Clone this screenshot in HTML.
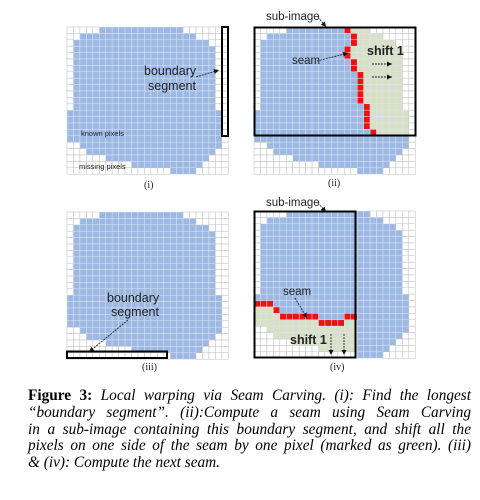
<!DOCTYPE html>
<html><head><meta charset="utf-8"><style>
body{margin:0;background:#fff;width:480px;height:500px;overflow:hidden;position:relative}
svg{position:absolute;left:0;top:0}
.cap{position:absolute;left:28px;top:388px;width:443px;font-family:"Liberation Serif",serif;font-size:15.3px;line-height:16.8px;font-style:italic;color:#000}
.cap div{text-align:justify;text-align-last:justify;white-space:nowrap;height:16.8px}
.cap div.last{text-align-last:left}
.cap b{font-style:normal}
</style></head><body>
<svg id="fig" width="480" height="500"></svg>
<div class="cap">
<div><b>Figure 3:</b> Local warping via Seam Carving. (i): Find the longest</div>
<div>“boundary segment”. (ii):Compute a seam using Seam Carving</div>
<div>in a sub-image containing this boundary segment, and shift all the</div>
<div>pixels on one side of the seam by one pixel (marked as green). (iii)</div>
<div class="last">&amp; (iv): Compute the next seam.</div>
</div>
<script>
const rowStart=[5,2,1,1,1,1,1,1,1,1,1,1,1,0,0,0,0,0,2,3,6,10,16];
const rowEnd=[17,19,21,22,22,22,22,22,22,22,22,22,22,23,23,23,23,23,23,22,21,20,19];
const seamII=[14,15,15,14,14,15,15,16,16,16,16,16,17,17,17,17,18];
const seamIVcols=[0,1,2,3,4,5,6,7,8,9,10,11,12,13,14];
const seamIVrows=[14,14,14,15,16,16,16,16,16,16,17,17,17,17,16];
const NC=25,NR=23,CW=6.45,CH=6.4;
const panels=[{x:67,y:27,id:'i'},{x:254,y:27,id:'ii'},{x:67,y:212,id:'iii'},{x:254,y:211,id:'iv'}];
const S='http://www.w3.org/2000/svg';
const svg=document.getElementById('fig');
function el(t,a,p){const e=document.createElementNS(S,t);for(const k in a)e.setAttribute(k,a[k]);(p||svg).appendChild(e);return e;}
function txt(x,y,s,size,name,extra){const t=el('text',Object.assign({x:x,y:y,'font-family':'Liberation Sans, sans-serif','font-size':size,fill:'#222'},extra||{}));t.textContent=s;


return t;}
function arrow(x1,y1,x2,y2,name){const g=el('g',{});


el('line',{x1:x1,y1:y1,x2:x2,y2:y2,stroke:'#222','stroke-width':0.9,'stroke-dasharray':'2,1'},g);
const a=Math.atan2(y2-y1,x2-x1),L=5,w=2.5;
const p=[[x2,y2],[x2-L*Math.cos(a)+w*Math.sin(a),y2-L*Math.sin(a)-w*Math.cos(a)],[x2-L*Math.cos(a)-w*Math.sin(a),y2-L*Math.sin(a)+w*Math.cos(a)]];
el('polygon',{points:p.map(q=>q.join(',')).join(' '),fill:'#111'},g);}
panels.forEach(P=>{
  const g=el('g',{});
  
  
  for(let r=0;r<NR;r++)for(let c=0;c<NC;c++){
    let fill='#fff';
    if(c>=rowStart[r]&&c<=rowEnd[r])fill='#9db9e3';
    if(P.id==='ii'&&r<seamII.length&&fill!=='#fff'){if(c===seamII[r])fill='#ee1111';else if(c>seamII[r])fill='#d8e0c6';}
    if(P.id==='iv'&&c<16){const k=seamIVcols.indexOf(c);const sr=k>=0?seamIVrows[k]:16;
      if(r===sr)fill='#ee1111';else if(r>sr&&fill!=='#fff')fill='#d8e0c6';}
    const stroke=fill==='#fff'?'#bdbdbd':'#d9e4f4';
    el('rect',{x:P.x+c*CW,y:P.y+r*CH,width:CW,height:CH,fill:fill,stroke:stroke,'stroke-width':0.5},g);
  }
});
// panel i
el('rect',{x:222,y:27,width:6,height:109,fill:'none',stroke:'#000','stroke-width':2});
txt(144,75,'boundary',12.5,'boundary-label-i');txt(148,90,'segment',12.5,'segment-label-i');
arrow(196,77,219,70,'boundary-arrow-i');
txt(81,136,'known pixels',7.5,'known-pixels-label');txt(79,169,'missing pixels',7.5,'missing-pixels-label');
txt(144,188,'(i)',10,'panel-label-i',{'font-family':'Liberation Serif, serif'});
// panel ii
el('rect',{x:254.5,y:27.5,width:161,height:108,fill:'none',stroke:'#000','stroke-width':2});
txt(266,20,'sub-image',11.5,'sub-image-label-ii');arrow(318,17,326,27,'sub-image-arrow-ii');
txt(292,64,'seam',11.5,'seam-label-ii');arrow(317,61,348,53,'seam-arrow-ii');
txt(367,55,'shift 1',12.5,'shift-label-ii',{'font-weight':'bold'});
arrow(372,64,392,64,'shift-arrow-1');arrow(372,77,392,77,'shift-arrow-2');
txt(328,186,'(ii)',10,'panel-label-ii',{'font-family':'Liberation Serif, serif'});
// panel iii
el('rect',{x:67,y:351.5,width:100,height:6.5,fill:'none',stroke:'#000','stroke-width':2});
txt(107,302,'boundary',12.5,'boundary-label-iii');txt(111,316,'segment',12.5,'segment-label-iii');
arrow(128,320,89,352,'boundary-arrow-iii');
txt(142,370,'(iii)',10,'panel-label-iii',{'font-family':'Liberation Serif, serif'});
// panel iv
el('rect',{x:254.5,y:211.5,width:101,height:146,fill:'none',stroke:'#000','stroke-width':2});
txt(266,206,'sub-image',11.5,'sub-image-label-iv');arrow(318,203,326,212,'sub-image-arrow-iv');
txt(283,295,'seam',11.5,'seam-label-iv');arrow(295,298,307,318,'seam-arrow-iv');
txt(290,344,'shift 1',12.5,'shift-label-iv',{'font-weight':'bold'});
arrow(331,334,331,355,'shift-down-arrow-1');arrow(344,334,344,355,'shift-down-arrow-2');
txt(330,370,'(iv)',10,'panel-label-iv',{'font-family':'Liberation Serif, serif'});
</script>
</body></html>
